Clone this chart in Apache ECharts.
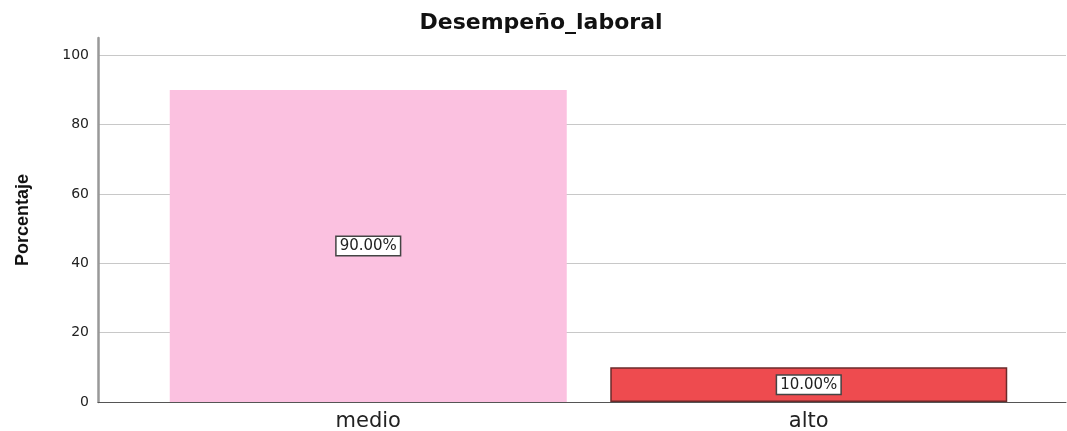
<!DOCTYPE html>
<html>
<head>
<meta charset="utf-8">
<script src="https://cdn.jsdelivr.net/npm/echarts@6/dist/echarts.min.js"></script>
<style>html,body{margin:0;padding:0;background:#fff}#c{width:1067px;height:431px}</style>
</head>
<body>
<div id="c"></div>
<script>
const titleText = 'Desempeño_laboral';
const categories = ['medio', 'alto'];
const values = [90, 10];
const barColors = ['#FBC1E0', '#EE4B4F'];
const barBorders = ['#FBC1E0', '#6B2B2B'];
const yTicks = [0, 20, 40, 60, 80, 100];
const yName = 'Porcentaje';

const chart = echarts.init(document.getElementById('c'), null, {renderer: 'canvas'});
const wide = 'DejaVu Sans, Verdana, sans-serif';
const arial = 'Liberation Sans, Arial, sans-serif';
chart.setOption({
  animation: false,
  backgroundColor: '#fff',
  title: {
    text: titleText, left: 536, top: 7, textAlign: 'center',
    textStyle: {fontFamily: wide, fontSize: 22, fontWeight: 'bold', color: '#111'}
  },
  grid: [
    {left: 98, right: 1, top: 38, bottom: 29, outerBoundsMode: 'none', containLabel: false},
    {left: 148, right: 38, top: 38, bottom: 29, outerBoundsMode: 'none', containLabel: false}
  ],
  xAxis: [
    {gridIndex: 0, type: 'value', min: 0, max: 1, axisLabel: {show: false}, axisTick: {show: false},
     splitLine: {show: false}, axisLine: {show: true, onZero: false, lineStyle: {color: '#555', width: 1}}},
    {gridIndex: 1, type: 'category', data: categories, axisLine: {show: false}, axisTick: {show: false},
     axisLabel: {fontFamily: wide, fontSize: 21, color: '#222', margin: 9}}
  ],
  yAxis: [
    {gridIndex: 0, type: 'value', min: 0, max: 105, interval: 20,
     name: yName, nameLocation: 'middle', nameGap: 66, nameRotate: 90,
     nameTextStyle: {fontFamily: arial, fontSize: 18, fontWeight: 'bold', color: '#111'},
     axisLine: {show: true, lineStyle: {color: '#999', width: 2.5}},
     axisTick: {show: false},
     axisLabel: {fontFamily: wide, fontSize: 14, color: '#222', margin: 9, showMaxLabel: false,
       formatter: v => yTicks.includes(v) ? String(v) : ''},
     splitLine: {show: true, showMaxLine: false, lineStyle: {color: '#c8c8c8', width: 1}}},
    {gridIndex: 1, type: 'value', min: 0, max: 105, show: false}
  ],
  series: [{
    type: 'bar', xAxisIndex: 1, yAxisIndex: 1, barWidth: 397,
    data: values.map((v, i) => ({value: v, itemStyle: {color: barColors[i], borderColor: barBorders[i], borderWidth: i === 1 ? 1.5 : 0}})),
    label: {
      show: true, position: 'inside', formatter: p => p.value.toFixed(2) + '%',
      fontFamily: wide, fontSize: 15, color: '#222', backgroundColor: '#fff',
      borderColor: '#444', borderWidth: 1.5, padding: [2, 3, 1, 3]
    }
  }]
});
</script>
</body>
</html>
